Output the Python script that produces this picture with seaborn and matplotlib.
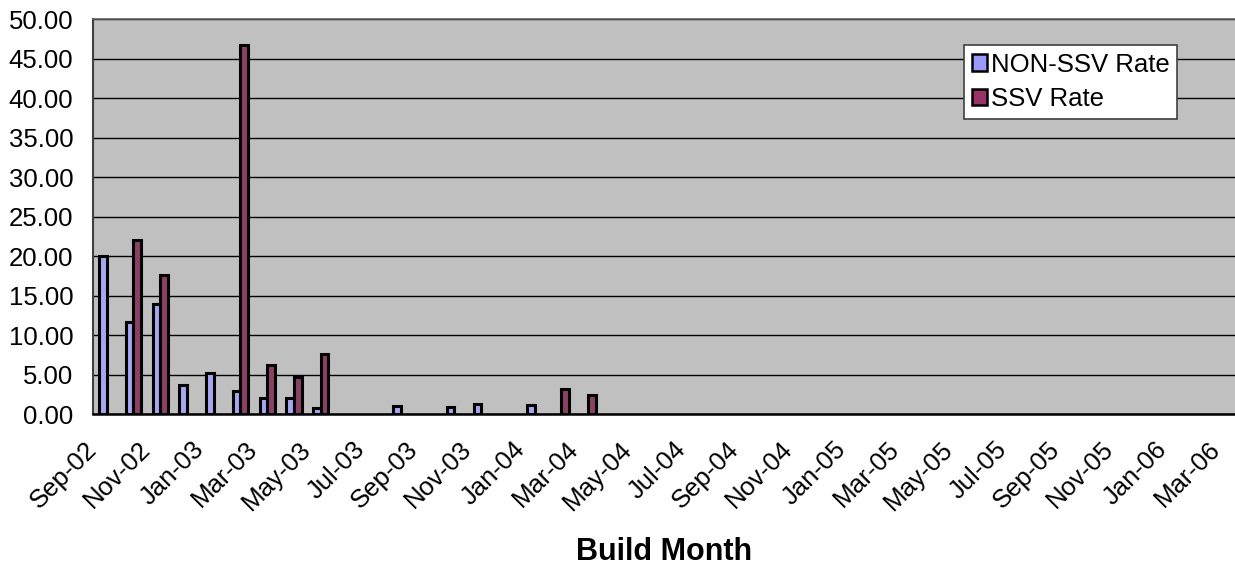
import numpy as np
import pandas as pd
import matplotlib
matplotlib.use("Agg")
import matplotlib.pyplot as plt
from matplotlib.patches import Patch
import seaborn as sns

# ---- data ----
months = ["Sep-02", "Oct-02", "Nov-02", "Dec-02",
          "Jan-03", "Feb-03", "Mar-03", "Apr-03", "May-03", "Jun-03",
          "Jul-03", "Aug-03", "Sep-03", "Oct-03", "Nov-03", "Dec-03",
          "Jan-04", "Feb-04", "Mar-04", "Apr-04", "May-04", "Jun-04",
          "Jul-04", "Aug-04", "Sep-04", "Oct-04", "Nov-04", "Dec-04",
          "Jan-05", "Feb-05", "Mar-05", "Apr-05", "May-05", "Jun-05",
          "Jul-05", "Aug-05", "Sep-05", "Oct-05", "Nov-05", "Dec-05",
          "Jan-06", "Feb-06", "Mar-06"]
nan = np.nan
non_ssv_rate = [20.1, 11.7, 13.9, 3.7,
                5.2, 2.9, 2.1, 2.1, 0.85, nan,
                nan, 1.05, nan, 0.93, 1.35, nan,
                1.2, nan, nan, nan, nan, nan,
                nan, nan, nan, nan, nan, nan,
                nan, nan, nan, nan, nan, nan,
                nan, nan, nan, nan, nan, nan,
                nan, nan, nan]
ssv_rate = [nan, 22.0, 17.6, nan,
            nan, 46.7, 6.3, 4.7, 7.6, nan,
            nan, nan, nan, nan, nan, nan,
            nan, 3.2, 2.5, nan, nan, nan,
            nan, nan, nan, nan, nan, nan,
            nan, nan, nan, nan, nan, nan,
            nan, nan, nan, nan, nan, nan,
            nan, nan, nan]
series_names = ["NON-SSV Rate", "SSV Rate"]
tick_labels = months[::2]
y_ticks = list(range(0, 51, 5))

# ---- styling ----
colors = ["#9999FF", "#993366"]

sns.set_style("white")
plt.rcParams["font.family"] = ["Liberation Sans", "DejaVu Sans"]
plt.rcParams["text.color"] = "black"
plt.rcParams["axes.labelcolor"] = "black"
plt.rcParams["xtick.color"] = "black"
plt.rcParams["ytick.color"] = "black"

df = pd.DataFrame({
    "month": months * 2,
    "rate": non_ssv_rate + ssv_rate,
    "series": [series_names[0]] * len(months) + [series_names[1]] * len(months),
}).dropna()

fig = plt.figure(figsize=(12.35, 5.65), dpi=100)
ax = fig.add_axes([93.3 / 1235, 1 - 414.3 / 565, 1 - 93.3 / 1235, (414.3 - 19.3) / 565])
ax.set_facecolor("#C0C0C0")

sns.barplot(data=df, x="month", y="rate", hue="series", order=months,
            hue_order=series_names, palette=colors, width=0.571, dodge=True,
            errorbar=None, edgecolor="black", linewidth=2.2, ax=ax,
            legend=False)

ax.set_axisbelow(True)
ax.set_ylim(0, 50)
ax.set_xlim(-0.5, 42.18)
ax.set_yticks(y_ticks)
ax.set_yticklabels([f"{v:.2f}" for v in y_ticks], fontsize=18.5, color="black")
ax.yaxis.grid(True, color="black", linewidth=1.0)
ax.xaxis.grid(False)

xt = [-0.5 + 2 * k for k in range(len(tick_labels))]
ax.set_xticks(xt)
ax.set_xticklabels(tick_labels, rotation=45, ha="right", va="center",
                   rotation_mode="anchor", fontsize=18.5, color="black")
ax.tick_params(axis="x", direction="out", length=6.5, width=1.2, color="black", pad=16)
ax.tick_params(axis="y", direction="out", length=5.8, width=1.2, color="black", pad=8.6)

ax.set_xlabel("Build Month", fontsize=22, fontweight="bold", labelpad=16, color="black")
ax.set_ylabel("")

ax.spines["right"].set_visible(False)
ax.spines["top"].set_color("#606060")
ax.spines["top"].set_linewidth(1.2)
ax.spines["left"].set_color("#404040")
ax.spines["left"].set_linewidth(1.5)
ax.spines["bottom"].set_color("black")
ax.spines["bottom"].set_linewidth(1.8)

handles = [Patch(facecolor=c, edgecolor="black", linewidth=1.8) for c in colors]
leg = fig.legend(handles=handles, labels=series_names, loc="upper left",
                 bbox_to_anchor=(964 / 1235, 1 - 45 / 565), bbox_transform=fig.transFigure,
                 borderaxespad=0, fontsize=18.5, frameon=True, fancybox=False,
                 framealpha=1, facecolor="white", edgecolor="#404040",
                 handlelength=0.6, handleheight=0.6, handletextpad=0.15,
                 labelspacing=0.4, borderpad=0.3)
leg.get_frame().set_linewidth(1.2)
for t in leg.get_texts():
    t.set_color("black")

fig.savefig("out.png", dpi=100)
